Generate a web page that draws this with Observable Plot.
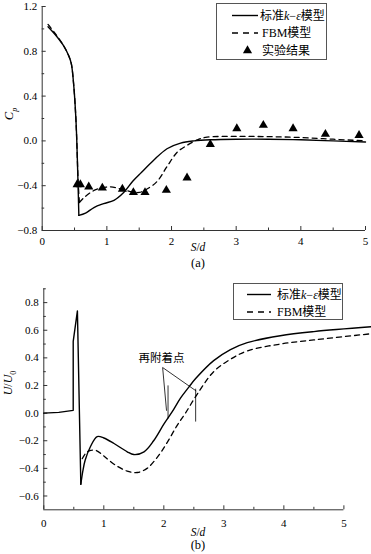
<!DOCTYPE html>
<html><head><meta charset="utf-8">
<script src="https://cdn.jsdelivr.net/npm/d3@7"></script>
<script src="https://cdn.jsdelivr.net/npm/@observablehq/plot@0.6"></script>
<style>
html,body{margin:0;padding:0;background:#fff;}
#fig{position:relative;width:371px;height:554px;font-family:"Liberation Serif","Times New Roman","Noto Sans CJK SC",serif;color:#000;overflow:hidden;}
#fig svg.pl{position:absolute;left:0;}
#fig svg.pl text{font-family:"Liberation Serif","Times New Roman",serif;}
#fig svg.pl text.cjk{font-family:"Noto Sans CJK SC",sans-serif;}
.lab{position:absolute;white-space:nowrap;transform:translate(-50%,-50%);line-height:1;}
.rot{transform:translate(-50%,-50%) rotate(-90deg);}
.legend{position:absolute;border:1px solid #555;background:#fff;box-sizing:border-box;}
.legend .txt{position:absolute;font-size:12px;white-space:nowrap;transform:translateY(-50%);line-height:1;}
.legend svg{position:absolute;left:0;top:0;overflow:visible;}
i{font-style:italic;}
</style></head>
<body><div id="fig"></div>
<script>
// ---------- data ----------
const seriesKE = "标准k−ε模型";
const seriesFBM = "FBM模型";
const seriesExp = "实验结果";
const annotLabel = "再附着点";

// panel (a): pressure coefficient Cp vs S/d
const xMajorA = [0, 1, 2, 3, 4, 5];
const xMinorA = [0.5, 1.5, 2.5, 3.5, 4.5];
const yMajorA = [-0.8, -0.4, 0, 0.4, 0.8, 1.2];
const yMinorA = [-0.6, -0.2, 0.2, 0.6, 1.0];

const keA_drop = [[0.09,1.02],[0.2,0.95],[0.33,0.85],[0.41,0.76],[0.45,0.69],[0.49,0.48],[0.52,0.21],[0.535,0.0],[0.555,-0.4],[0.567,-0.665]];
const keA_wake = [[0.567,-0.665],[0.67,-0.645],[0.8,-0.595],[0.95,-0.56],[1.11,-0.53],[1.26,-0.46],[1.4,-0.36],[1.52,-0.29],[1.72,-0.175],[1.93,-0.07],[2.14,-0.02],[2.35,0.0],[2.6,0.01],[3.0,0.015],[3.5,0.015],[4.0,0.01],[4.5,0.0],[5.0,-0.01]];
const fbmA_drop = [[0.09,1.04],[0.2,0.96],[0.33,0.85],[0.41,0.76],[0.45,0.69],[0.49,0.48],[0.52,0.21],[0.535,0.0],[0.555,-0.35],[0.575,-0.55]];
const fbmA_wake = [[0.575,-0.55],[0.64,-0.51],[0.75,-0.46],[0.85,-0.43],[1.06,-0.41],[1.21,-0.43],[1.35,-0.45],[1.5,-0.46],[1.62,-0.43],[1.78,-0.36],[1.93,-0.23],[2.09,-0.10],[2.24,-0.04],[2.4,0.01],[2.55,0.033],[3.0,0.04],[3.5,0.038],[4.0,0.03],[4.5,0.015],[5.0,0.0]];
const expA = [[0.54,-0.39],[0.59,-0.39],[0.72,-0.41],[0.93,-0.42],[1.24,-0.43],[1.41,-0.46],[1.59,-0.46],[1.92,-0.44],[2.24,-0.33],[2.60,-0.03],[3.01,0.11],[3.42,0.14],[3.88,0.11],[4.38,0.06],[4.90,0.05]];

// panel (b): U/U0 vs S/d
const xMajorB = [0, 1, 2, 3, 4, 5];
const xMinorB = [0.5, 1.5, 2.5, 3.5, 4.5];
const yMajorB = [-0.6, -0.4, -0.2, 0, 0.2, 0.4, 0.6, 0.8];
const yMinorB = [-0.5, -0.3, -0.1, 0.1, 0.3, 0.5, 0.7, 0.9];

const keB_spike = [[0,0],[0.25,0.005],[0.49,0.02],[0.49,0.52],[0.56,0.74],[0.617,-0.515]];
const keB_wake = [[0.617,-0.515],[0.65,-0.42],[0.69,-0.34],[0.78,-0.24],[0.89,-0.17],[1.0,-0.18],[1.17,-0.22],[1.39,-0.28],[1.5,-0.30],[1.67,-0.28],[1.83,-0.20],[2.0,-0.08],[2.14,0.01],[2.28,0.11],[2.42,0.19],[2.53,0.25],[2.83,0.38],[3.11,0.46],[3.39,0.51],[3.94,0.56],[4.5,0.59],[5.46,0.625]];
const fbmB = [[0.64,-0.33],[0.7,-0.29],[0.78,-0.27],[0.87,-0.27],[1.0,-0.31],[1.17,-0.37],[1.39,-0.42],[1.56,-0.43],[1.72,-0.40],[1.89,-0.32],[2.06,-0.21],[2.22,-0.09],[2.36,0.0],[2.56,0.14],[2.83,0.30],[3.11,0.39],[3.39,0.45],[3.94,0.50],[4.5,0.53],[5.46,0.575]];

// reattachment annotation (data coordinates)
const annotText = [{x: 1.96, y: 0.40}];
const annotLeaders = [{x1: 1.98, y1: 0.33, x2: 2.045, y2: 0.017}, {x1: 1.98, y1: 0.33, x2: 2.54, y2: 0.16}];
const annotMarks = [{x: 2.07, y1: 0.197, y2: -0.043}, {x: 2.53, y1: 0.173, y2: -0.065}];

// ---------- drawing ----------
const AX = "#333";
const fmt1 = d3.format(".1f");
const px = d => d[0], py = d => d[1];
const style = {fontFamily: "'Liberation Serif', 'Times New Roman', serif", fontSize: "11px", color: "#000", background: "transparent", overflow: "visible"};

function axes(xMaj, xMin, yMaj, yMin, x0, x1, y0, y1, padX) {
  return [
    Plot.ruleX([x0], {y1: y0, y2: y1, stroke: AX}),
    Plot.ruleY([y0], {x1: x0, x2: x1, stroke: AX}),
    Plot.ruleY(yMaj, {y: d => d, x1: x0, x2: x0, insetRight: -4, stroke: AX}),
    Plot.ruleY(yMin, {y: d => d, x1: x0, x2: x0, insetRight: -2.5, stroke: AX}),
    Plot.ruleX(xMaj, {x: d => d, y1: y0, y2: y0, insetBottom: 4, stroke: AX}),
    Plot.ruleX(xMin, {x: d => d, y1: y0, y2: y0, insetBottom: 2.5, stroke: AX}),
    Plot.axisY(yMaj, {tickSize: 0, tickPadding: 5, tickFormat: fmt1, label: null}),
    Plot.axisX(xMaj, {tickSize: 0, tickPadding: padX, tickFormat: d => String(d), label: null})
  ];
}

const plotA = Plot.plot({
  width: 371, height: 270,
  marginLeft: 41.7, marginRight: 6, marginTop: 6, marginBottom: 40,
  x: {domain: [0, 5]}, y: {domain: [-0.8, 1.2]},
  style,
  marks: [
    ...axes(xMajorA, xMinorA, yMajorA, yMinorA, 0, 5, -0.8, 1.2, 7),
    Plot.line(keA_drop, {x: px, y: py, curve: "catmull-rom", stroke: "#000", strokeWidth: 1.4}),
    Plot.line(keA_wake, {x: px, y: py, curve: "catmull-rom", stroke: "#000", strokeWidth: 1.4}),
    Plot.line(fbmA_drop, {x: px, y: py, curve: "catmull-rom", stroke: "#000", strokeWidth: 1.3, strokeDasharray: "5,4"}),
    Plot.line(fbmA_wake, {x: px, y: py, curve: "catmull-rom", stroke: "#000", strokeWidth: 1.3, strokeDasharray: "5,4"}),
    Plot.dot(expA, {x: px, y: py, symbol: "triangle", r: 3.4, fill: "#000", stroke: "none"})
  ]
});

const plotB = Plot.plot({
  width: 371, height: 284,
  marginLeft: 43.3, marginRight: 0, marginTop: 18.3, marginBottom: 44.7,
  x: {domain: [0, 5.46]}, y: {domain: [-0.7, 0.9]},
  style,
  marks: [
    ...axes(xMajorB, xMinorB, yMajorB, yMinorB, 0, 5, -0.7, 0.9, 9),
    Plot.line(keB_spike, {x: px, y: py, curve: "linear", stroke: "#000", strokeWidth: 1.4}),
    Plot.line(keB_wake, {x: px, y: py, curve: "catmull-rom", stroke: "#000", strokeWidth: 1.4}),
    Plot.line(fbmB, {x: px, y: py, curve: "catmull-rom", stroke: "#000", strokeWidth: 1.3, strokeDasharray: "5,4"}),
    Plot.link(annotLeaders, {x1: "x1", y1: "y1", x2: "x2", y2: "y2", stroke: "#000", strokeWidth: 0.8}),
    Plot.ruleX(annotMarks, {x: "x", y1: "y1", y2: "y2", stroke: "#000", strokeWidth: 0.8}),
    Plot.text(annotText, {x: "x", y: "y", text: () => annotLabel, fontSize: 11.5, fill: "#000"})
  ]
});

const fig = document.getElementById("fig");
plotA.classList.add("pl"); plotA.style.top = "0px";
plotB.classList.add("pl"); plotB.style.top = "270px";
fig.appendChild(plotA); fig.appendChild(plotB);
plotB.querySelectorAll("text").forEach(t => { if (t.textContent === annotLabel) t.classList.add("cjk"); });

function addLabel(html, x, y, size, rot) {
  const d = document.createElement("div");
  d.className = "lab" + (rot ? " rot" : "");
  d.style.left = x + "px"; d.style.top = y + "px"; d.style.fontSize = size + "px";
  d.innerHTML = html;
  fig.appendChild(d);
}
addLabel("<i>S</i>/<i>d</i>", 198, 248, 11.5);
addLabel("(a)", 198, 263, 12.5);
addLabel("<i>S</i>/<i>d</i>", 198, 533, 11.5);
addLabel("(b)", 198, 545, 12.5);
addLabel("<i>C<sub style='font-size:8px'>p</sub></i>", 11, 114, 12.5, true);
addLabel("<i>U</i>/<i>U</i><sub style='font-size:8px'>0</sub>", 10, 383, 12, true);

function keLabel(name) {
  return name.replace("k", "<i>k</i>").replace("ε", "<i>ε</i>");
}
function addLegend(left, top, w, h, rows) {
  const box = document.createElement("div");
  box.className = "legend";
  Object.assign(box.style, {left: left + "px", top: top + "px", width: w + "px", height: h + "px"});
  const svgNS = "http://www.w3.org/2000/svg";
  const svg = document.createElementNS(svgNS, "svg");
  svg.setAttribute("width", w); svg.setAttribute("height", h);
  for (const r of rows) {
    if (r.kind === "tri") {
      const p = document.createElementNS(svgNS, "path");
      p.setAttribute("d", d3.symbol(d3.symbolTriangle, Math.PI * 3.4 * 3.4)());
      p.setAttribute("transform", `translate(${r.mx},${r.y})`);
      p.setAttribute("fill", "#000");
      svg.appendChild(p);
    } else {
      const l = document.createElementNS(svgNS, "line");
      l.setAttribute("x1", r.l0); l.setAttribute("x2", r.l1);
      l.setAttribute("y1", r.y); l.setAttribute("y2", r.y);
      l.setAttribute("stroke", "#000"); l.setAttribute("stroke-width", r.kind === "dash" ? 1.3 : 1.4);
      if (r.kind === "dash") l.setAttribute("stroke-dasharray", "6,5");
      svg.appendChild(l);
    }
    const t = document.createElement("div");
    t.className = "txt";
    t.style.left = r.tx + "px"; t.style.top = r.y + "px";
    t.innerHTML = r.html;
    box.appendChild(t);
  }
  box.appendChild(svg);
  fig.appendChild(box);
}
addLegend(216, 3, 111, 57, [
  {kind: "solid", l0: 15, l1: 41, y: 11.5, tx: 43, html: keLabel(seriesKE)},
  {kind: "dash", l0: 15, l1: 41, y: 29, tx: 45, html: seriesFBM},
  {kind: "tri", mx: 30.5, y: 46.5, tx: 45, html: seriesExp}
]);
addLegend(233, 283, 110, 37, [
  {kind: "solid", l0: 13, l1: 37, y: 10.5, tx: 43, html: keLabel(seriesKE)},
  {kind: "dash", l0: 13, l1: 37, y: 28, tx: 43, html: seriesFBM}
]);
</script>
</body></html>
